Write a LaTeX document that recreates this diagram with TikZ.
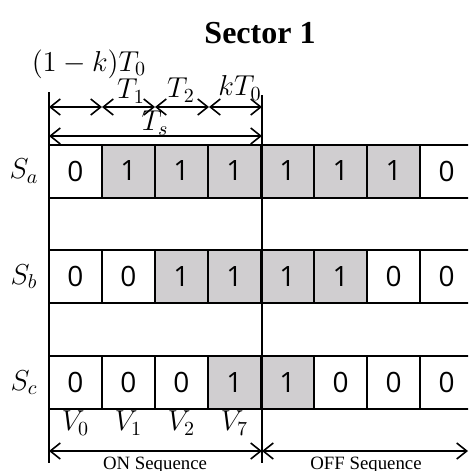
\documentclass[tikz,border=0pt]{standalone}
\usepackage{fontspec}
\setmainfont{Liberation Serif}
\newfontfamily\cellfont{Open Sans}
\usetikzlibrary{arrows.meta}
\definecolor{shade}{RGB}{208,206,208}
\begin{document}
\begin{tikzpicture}[x=0.5pt,y=-0.5pt,
  cell/.style={draw, line width=1pt, minimum width=26.5pt, minimum height=26.5pt, inner sep=0pt, font=\cellfont\fontsize{14}{14}\selectfont},
  v0/.style={cell, fill=white},
  v1/.style={cell, fill=shade},
  dim/.style={{Straight Barb[length=5pt,width=8pt]}-{Straight Barb[length=5pt,width=8pt]}, line width=0.8pt},
  lab/.style={font=\fontsize{14}{14}\selectfont, inner sep=0pt},
  seq/.style={font=\fontsize{9.4}{10}\selectfont, inner sep=0pt}]
\useasboundingbox (0,0) rectangle (468,471);
\clip (0,0) rectangle (468,471);
\node[font=\fontsize{16}{16}\selectfont\bfseries] (title) at (260,33) {Sector 1};
% cells
\foreach \v [count=\i] in {0,1,1,1,1,1,1,0}
  \node[v\v] (a\i) at ({49+53*(\i-0.5)},171) {\v};
\foreach \v [count=\i] in {0,0,1,1,1,1,0,0}
  \node[v\v] (b\i) at ({49+53*(\i-0.5)},276.5) {\v};
\foreach \v [count=\i] in {0,0,0,1,1,0,0,0}
  \node[v\v] (c\i) at ({49+53*(\i-0.5)},382.5) {\v};
% vertical lines
\coordinate (L0) at (49,92);
\coordinate (L1) at (49,463);
\coordinate (M0) at (262,95);
\coordinate (M1) at (262,463);
\draw[line width=1pt] (L0) -- (L1);
\draw[line width=1pt] (M0) -- (M1);
% row labels
\node[lab] (sa) at (24,171) {$S_a$};
\node[lab] (sb) at (24,276.5) {$S_b$};
\node[lab] (sc) at (24,382.5) {$S_c$};
% top dimension arrows
\coordinate (t0) at (49,107);
\coordinate (t1) at (102,107);
\coordinate (t2) at (155,107);
\coordinate (t3) at (209,107);
\coordinate (t4) at (262,107);
\draw[dim] (t0) -- (t1);
\draw[dim] (t1) -- (t2);
\draw[dim] (t2) -- (t3);
\draw[dim] (t3) -- (t4);
\coordinate (s0) at (49,136);
\coordinate (s1) at (262,136);
\draw[dim] (s0) -- (s1);
\node[lab] (k1) at (89,64) {$(1-k)T_0$};
\node[lab] (lt1) at (131,91) {$T_1$};
\node[lab] (lt2) at (181,90) {$T_2$};
\node[lab] (lkt) at (240,88) {$kT_0$};
\node[lab] (lts) at (155,123) {$T_s$};
% V labels
\node[lab] (v0) at (75.5,423) {$V_0$};
\node[lab] (v1) at (128.5,423) {$V_1$};
\node[lab] (v2) at (181.5,423) {$V_2$};
\node[lab] (v7) at (234.5,423) {$V_7$};
% sequences
\coordinate (o0) at (49,451);
\coordinate (o1) at (262,451);
\coordinate (o2) at (468,451);
\draw[dim] (o0) -- (o1);
\draw[dim] (o1) -- (o2);
\node[seq] (on) at (155,465) {ON Sequence};
\node[seq] (off) at (366,465) {OFF Sequence};
\end{tikzpicture}
\end{document}
